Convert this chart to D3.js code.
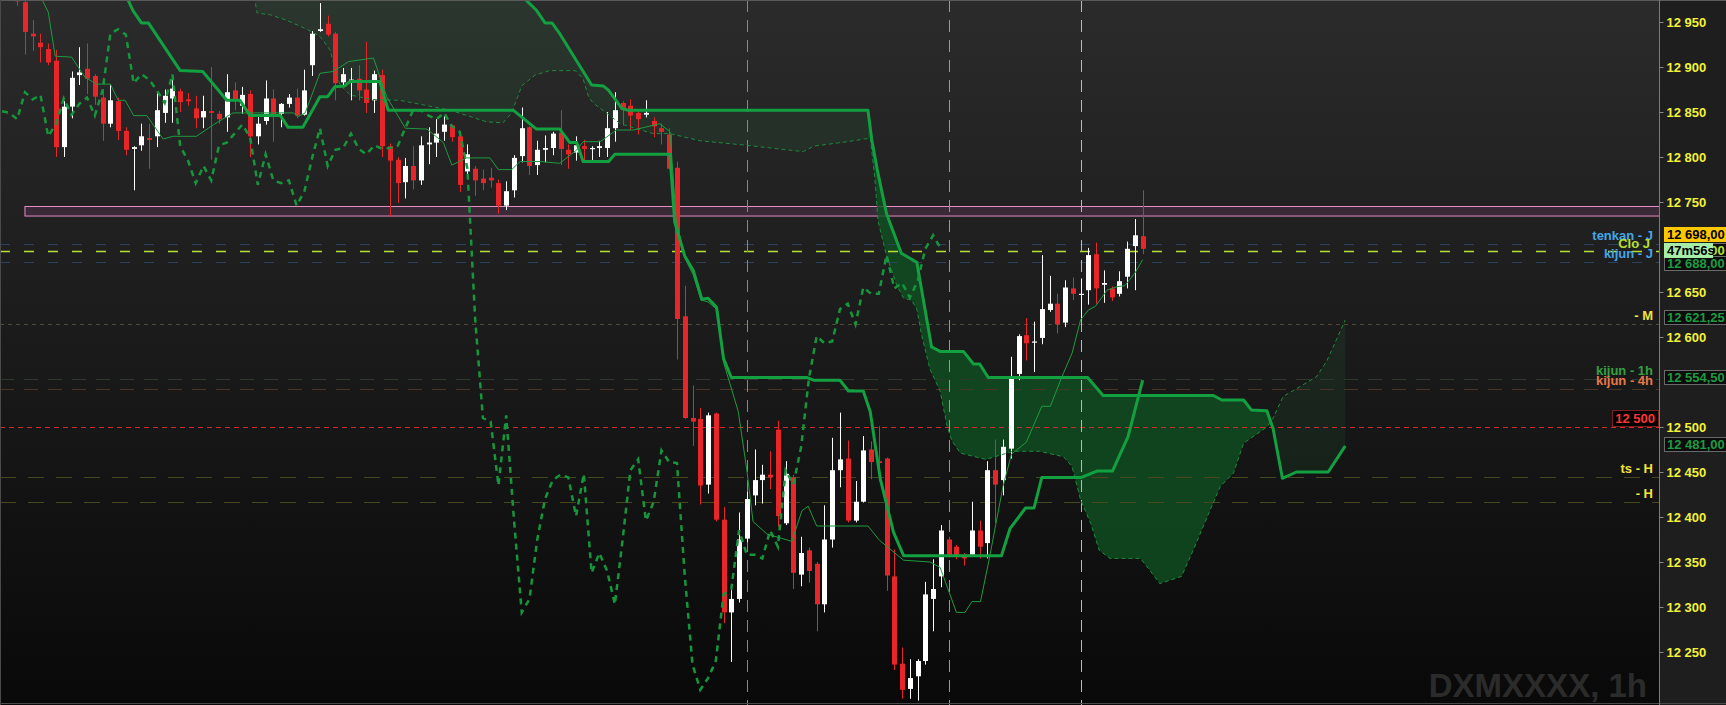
<!DOCTYPE html>
<html><head><meta charset="utf-8">
<script src="https://cdn.jsdelivr.net/npm/d3@7"></script>
<style>html,body{margin:0;padding:0;background:#1e1e1e;overflow:hidden}svg{display:block}</style>
</head><body><svg id="c" width="1726" height="705"></svg>
<script>
// ---------------- DATA ----------------
const open = [12995,12972,12937,12927,12920,12907,12811,12856,12891,12898, 12890,12866,12837,12862,12829,12809,12813,12821,12823,12849, 12865,12873,12864,12854,12844,12851,12848,12844,12874,12857, 12870,12823,12840,12865,12848,12859,12866,12847,12902,12940, 12948,12937,12883,12884,12887,12875,12863,12891,12812,12797, 12772,12790,12774,12814,12816,12828,12835,12823,12784,12787, 12776,12777,12771,12746,12763,12801,12833,12791,12808,12810, 12827,12808,12805,12812,12809,12810,12810,12832,12860,12857, 12849,12847,12840,12832,12825,12788,12623,12510,12509,12436, 12515,12397,12294,12309,12376,12424,12441,12447,12497,12393, 12444,12336,12363,12348,12303,12375,12452,12465,12396,12417, 12475,12462,12465,12334,12237,12209,12223,12240,12309,12334, 12375,12367,12356,12358,12385,12371,12452,12441,12476,12559, 12602,12594,12599,12630,12637,12616,12654,12647,12652,12692, 12658,12654,12648,12667,12701,12712];
const high = [13005,12980,12952,12937,12926,12919,12862,12895,12922,12926, 12892,12875,12881,12866,12833,12812,12837,12837,12871,12875, 12891,12876,12871,12868,12868,12900,12851,12892,12883,12878, 12874,12846,12885,12875,12860,12870,12876,12897,12940,12971, 12957,12939,12899,12899,12902,12928,12896,12897,12815,12800, 12799,12812,12823,12833,12842,12845,12836,12825,12814,12790, 12786,12788,12775,12773,12802,12855,12834,12818,12824,12828, 12852,12814,12823,12819,12812,12818,12850,12872,12862,12864, 12852,12863,12844,12837,12832,12795,12657,12546,12521,12516, 12516,12411,12324,12405,12428,12475,12458,12473,12507,12462, 12447,12378,12366,12350,12413,12488,12516,12485,12440,12490, 12484,12501,12466,12364,12255,12242,12242,12328,12353,12391, 12378,12369,12360,12417,12396,12462,12486,12486,12578,12603, 12621,12617,12691,12668,12648,12663,12666,12665,12699,12705, 12674,12656,12673,12706,12731,12763];
const low = [12968,12914,12918,12905,12902,12800,12800,12843,12880,12870, 12858,12818,12833,12819,12802,12763,12807,12787,12811,12838, 12838,12850,12857,12832,12832,12797,12837,12828,12852,12848, 12800,12814,12836,12817,12833,12855,12843,12846,12890,12939, 12934,12863,12880,12863,12863,12849,12849,12800,12734,12749, 12754,12764,12769,12792,12800,12818,12817,12761,12776,12757, 12763,12766,12737,12741,12755,12794,12780,12780,12794,12802, 12791,12787,12796,12796,12794,12800,12800,12817,12835,12830, 12825,12844,12822,12814,12786,12575,12509,12479,12414,12426, 12395,12282,12239,12305,12372,12413,12415,12431,12389,12391, 12320,12323,12327,12273,12294,12366,12433,12394,12394,12416, 12442,12440,12318,12230,12198,12198,12196,12236,12273,12322, 12355,12353,12346,12356,12354,12354,12393,12424,12465,12552, 12574,12561,12592,12628,12604,12611,12641,12619,12636,12637, 12638,12640,12645,12654,12652,12692];
const close = [12973,12939,12934,12922,12905,12811,12856,12888,12894,12887, 12867,12837,12863,12829,12808,12811,12823,12819,12852,12868, 12876,12861,12862,12843,12851,12849,12842,12872,12864,12869, 12823,12837,12865,12847,12859,12866,12846,12874,12937,12942, 12936,12882,12892,12886,12874,12860,12892,12812,12796,12771, 12790,12774,12813,12816,12826,12836,12822,12769,12803,12774, 12771,12774,12746,12762,12799,12832,12790,12808,12810,12826, 12809,12803,12813,12809,12810,12812,12832,12852,12852,12846, 12842,12849,12834,12828,12787,12620,12510,12506,12435,12513, 12397,12294,12309,12375,12420,12441,12447,12444,12401,12448, 12338,12360,12340,12303,12375,12452,12464,12396,12417,12474, 12461,12460,12335,12236,12208,12221,12240,12314,12320,12385, 12358,12358,12354,12385,12367,12452,12436,12478,12554,12601, 12593,12595,12631,12637,12614,12655,12648,12648,12691,12654, 12660,12644,12662,12698,12713,12698];

// Ichimoku lines: [bar index, price]
const tenkan = [[2.9,12980],[4.0,12961],[4.9,12912],[7.0,12911],[8.7,12889],[10.2,12881],[12.0,12881],[13.0,12863],[13.9,12863],[15.0,12846],[16.7,12846],[18.8,12820],[20.1,12823],[23.1,12823],[25.3,12836],[27.8,12849],[35.6,12849],[36.2,12845],[37.1,12849],[39.0,12893],[40.7,12895],[42.7,12906],[45.9,12910],[47.6,12867],[50.0,12832],[52.8,12831],[54.9,12816],[56.0,12791],[57.9,12799],[60.9,12799],[62.0,12786],[63.7,12786],[64.8,12795],[67.4,12795],[69.9,12793],[72.1,12808],[72.9,12817],[75.1,12817],[77.2,12830],[79.4,12830],[82.8,12837],[84.1,12828],[84.9,12730],[86.0,12688],[87.1,12669],[88.1,12641],[89.0,12639],[90.1,12631],[91.0,12572],[92.9,12517],[94.0,12452],[94.8,12395],[96.6,12381],[99.8,12373],[101.1,12407],[101.9,12412],[103.0,12390],[109.6,12390],[111.1,12374],[114.2,12352],[117.6,12350],[118.9,12344],[121.0,12294],[122.1,12294],[123.0,12306],[124.1,12306],[125.2,12352],[127.0,12434],[128.1,12470],[130.0,12483],[132.0,12523],[133.1,12523],[134.6,12556],[135.9,12582],[137.0,12619],[138.0,12630],[138.9,12634],[140.4,12652],[141.7,12656],[142.7,12657],[144.0,12671],[145.0,12686]];
const kijun = [[13.5,12995],[14.3,12974],[14.9,12963],[16.0,12949],[16.9,12949],[21.0,12896],[23.9,12895],[27.0,12863],[28.7,12863],[30.0,12846],[33.9,12846],[34.9,12833],[36.8,12833],[39.0,12867],[40.0,12867],[40.9,12878],[42.2,12879],[42.9,12884],[46.7,12884],[47.8,12852],[63.9,12852],[66.9,12831],[69.9,12831],[71.2,12816],[72.1,12816],[72.9,12795],[76.2,12795],[77.0,12803],[84.1,12803],[84.7,12728],[86.0,12690],[87.1,12674],[88.2,12642],[89.0,12643],[90.1,12633],[91.0,12576],[92.0,12555],[101.7,12555],[102.6,12552],[106.0,12552],[107.1,12540],[109.0,12540],[109.9,12517],[111.2,12442],[112.9,12383],[114.2,12357],[126.8,12357],[127.9,12387],[129.9,12410],[131.0,12410],[132.0,12444],[137.1,12444],[139.1,12451],[141.1,12451],[143.1,12489],[145.0,12552]];
const senkouA = [[30.4,12986],[30.9,12960],[32.6,12958],[34.7,12952],[37.3,12942],[39.0,12934],[40.3,12919],[40.9,12900],[41.6,12880],[42.9,12869],[45.5,12864],[49.3,12863],[55.8,12852],[60.5,12839],[62.6,12838],[63.7,12849],[65.0,12879],[66.7,12891],[68.6,12896],[71.9,12896],[72.9,12887],[73.6,12867],[74.2,12860],[75.9,12849],[77.7,12837],[81.9,12826],[84.1,12826],[88.0,12818],[94.0,12813],[99.1,12808],[101.3,12806],[102.6,12812],[106.9,12817],[109.9,12821],[110.5,12776],[110.9,12729],[112.0,12690],[113.3,12658],[114.2,12643],[115.2,12641],[115.9,12631],[116.5,12603],[117.6,12564],[118.9,12540],[119.8,12501],[120.4,12485],[121.5,12471],[124.8,12464],[128.3,12473],[131.7,12473],[134.8,12467],[135.9,12456],[137.0,12419],[138.3,12393],[139.4,12363],[140.8,12354],[144.7,12354],[145.9,12341],[147.2,12326],[150.0,12334],[151.5,12363],[153.7,12408],[155.0,12434],[156.7,12449],[158.0,12482],[161.0,12500],[161.8,12510],[163.1,12534],[165.3,12545],[167.4,12556],[168.7,12573],[171.1,12619]];
const senkouB = [[30.4,13080],[45,13070],[55,13050],[62,13010],[64.5,12990],[65.6,12974],[66.9,12963],[68.0,12949],[68.9,12949],[69.9,12937],[74.0,12880],[75.5,12879],[76.2,12874],[77.9,12854],[78.7,12852],[109.6,12852],[110.1,12819],[110.8,12786],[112.0,12737],[113.9,12693],[115.9,12683],[117.8,12589],[118.9,12584],[121.9,12584],[123.2,12570],[124.0,12570],[125.1,12555],[137.9,12555],[139.9,12535],[154.1,12535],[155.2,12530],[158.0,12530],[159.0,12519],[161.0,12518],[161.8,12498],[163.0,12443],[164.8,12450],[168.9,12450],[171.1,12479]];

const tickValues = [12950,12900,12850,12800,12750,12650,12600,12500,12450,12400,12350,12300,12250];
const levelNames  = ["tenkan - J","Clo J","kijun - J","- M","kijun - 1h","kijun - 4h","12 500","ts - H","- H"];
const levelValues = [12703.3,12696,12683.7,12614.4,12553,12542,12500,12444.4,12416.3];
const zoneValues = [12734.4,12745];
const zoneStart = 1;
const dayStarts = [94,120,137];
const tagValues = [12696,12688,12621.25,12554.5,12481];
const countdown = "47m56s";
const watermark = "DXMXXXX, 1h";

// ---------------- DRAW ----------------
const W=1726,H=705,plotR=1659;
const FONT='"Liberation Sans", Arial, sans-serif';
const svg=d3.select('#c');
const defs=svg.append('defs');
const g0=defs.append('linearGradient').attr('id','bg').attr('x1',0).attr('y1',0).attr('x2',0).attr('y2',1);
g0.append('stop').attr('offset','0%').attr('stop-color','#2b2b2b');
g0.append('stop').attr('offset','100%').attr('stop-color','#090909');

const x=d3.scaleLinear().domain([0,145]).range([17.2,1142.7]);
const y=d3.scaleLinear().domain([12250,12950]).range([652,22]);

defs.append('clipPath').attr('id','plot').append('rect').attr('width',plotR).attr('height',H);
const xs=x(109.6), xe=x(161.4);
const cf=defs.append('clipPath').attr('id','faint');
cf.append('rect').attr('x',0).attr('y',0).attr('width',xs).attr('height',H);
cf.append('rect').attr('x',xe).attr('y',0).attr('width',plotR-xe).attr('height',H);
defs.append('clipPath').attr('id','strong').append('rect').attr('x',xs).attr('y',0).attr('width',xe-xs).attr('height',H);

svg.append('rect').attr('width',W).attr('height',H).attr('fill','#1e1e1e');
svg.append('rect').attr('width',plotR).attr('height',H).attr('fill','url(#bg)');

svg.append('text').attr('x',1647).attr('y',697).attr('text-anchor','end')
  .attr('font-family',FONT).attr('font-weight','bold').attr('font-size',33)
  .attr('fill','#2b2b2b').text(watermark);

const P=svg.append('g').attr('clip-path','url(#plot)');

// zone
P.append('rect').attr('x',x(zoneStart)).attr('y',y(zoneValues[1])).attr('width',plotR-x(zoneStart)+5)
 .attr('height',y(zoneValues[0])-y(zoneValues[1])).attr('fill','#3a2937').attr('stroke','#e48cc4').attr('stroke-width',1);

// cloud
const pt=d=>[x(d[0]),y(d[1])];
const poly=senkouA.map(pt).concat(senkouB.slice().reverse().map(pt));
const polyStr='M'+poly.map(p=>p.join(',')).join('L')+'Z';
P.append('path').attr('d',polyStr).attr('fill','rgba(40,150,70,0.11)').attr('clip-path','url(#faint)');
P.append('path').attr('d',polyStr).attr('fill','rgba(14,82,34,0.78)').attr('clip-path','url(#strong)');

// horizontal levels
const lvlStyle={
 "tenkan - J":{c:'#2c4260',d:'10,14',w:1,t:'#45a6e6'},
 "Clo J":{c:'#b8e030',d:'10,14',w:1.5,t:'#b8e030'},
 "kijun - J":{c:'#2c4260',d:'10,14',w:1,t:'#45a6e6'},
 "- M":{c:'#4e4a34',d:'4,4',w:1,t:'#f0e43c'},
 "kijun - 1h":{c:'#2c3a2e',d:'14,10',w:1,t:'#36a040'},
 "kijun - 4h":{c:'#4a3428',d:'14,10',w:1,t:'#e8784a'},
 "12 500":{c:'#d02a2a',d:'5,4',w:1,t:'#ff3434'},
 "ts - H":{c:'#48481e',d:'16,12',w:1,t:'#f0e43c'},
 "- H":{c:'#48481e',d:'16,12',w:1,t:'#f0e43c'}
};
levelNames.forEach((n,k)=>{
  const s=lvlStyle[n], yy=Math.round(y(levelValues[k]))+0.5;
  P.append('line').attr('x1',0).attr('x2',plotR).attr('y1',yy).attr('y2',yy)
   .attr('stroke',s.c).attr('stroke-width',s.w).attr('stroke-dasharray',s.d);
});

// day separators
const dayCol=['#5b8fd8','#d070d8','#e8b848'];
dayStarts.forEach((d,k)=>{
  const xx=Math.round(x(d))+0.5;
  P.append('line').attr('x1',xx).attr('x2',xx).attr('y1',0).attr('y2',H)
   .attr('stroke',dayCol[k]).attr('stroke-width',1).attr('stroke-dasharray','12,8');
});

// candles
const idx=d3.range(open.length);
const cg=P.append('g');
idx.forEach(i=>{
  const up=close[i]>=open[i];
  const col=up?'#ffffff':'#e8262a';
  const xx=Math.round(x(i));
  cg.append('line').attr('x1',xx+0.5).attr('x2',xx+0.5).attr('y1',y(high[i])).attr('y2',y(low[i]))
    .attr('stroke',col).attr('stroke-width',1);
  const top=y(Math.max(open[i],close[i])), bot=y(Math.min(open[i],close[i]));
  cg.append('rect').attr('x',xx-2).attr('y',top).attr('width',5).attr('height',Math.max(1.2,bot-top))
    .attr('fill',col);
});

// lines
const line=d3.line().x(d=>x(d[0])).y(d=>y(d[1]));
P.append('path').attr('d',line(senkouA)).attr('fill','none').attr('stroke','#1f8a3c').attr('stroke-width',1).attr('stroke-dasharray','4,3');
P.append('path').attr('d',line(senkouB)).attr('fill','none').attr('stroke','#12a040').attr('stroke-width',3).attr('stroke-linejoin','round');
const chikou=close.map((c,i)=>[i-26,c]).filter(d=>d[0]>=-3);
P.append('path').attr('d',line(chikou)).attr('fill','none').attr('stroke','#16963c').attr('stroke-width',2.5).attr('stroke-dasharray','6,5');
P.append('path').attr('d',line(tenkan)).attr('fill','none').attr('stroke','#1f9a40').attr('stroke-width',1);
P.append('path').attr('d',line(kijun)).attr('fill','none').attr('stroke','#12a040').attr('stroke-width',3).attr('stroke-linejoin','round');

// level labels inside plot
levelNames.forEach((n,k)=>{
  const s=lvlStyle[n], yy=y(levelValues[k]);
  if(n==="12 500"){
    P.append('rect').attr('x',1612.5).attr('y',410.5).attr('width',46).attr('height',16)
      .attr('fill','#000').attr('stroke','#7a1e1e');
    P.append('text').attr('x',1655).attr('y',423).attr('text-anchor','end')
      .attr('font-family',FONT).attr('font-weight','bold').attr('font-size',13).attr('fill',s.t).text(n);
    return;
  }
  const ax = n==="Clo J"?1650:1653;
  P.append('text').attr('x',ax).attr('y',yy-(n==="Clo J"?2.5:4)).attr('text-anchor','end')
    .attr('font-family',FONT).attr('font-weight','bold').attr('font-size',13).attr('fill',s.t).text(n);
});

// borders
svg.append('line').attr('x1',0).attr('x2',W).attr('y1',0.5).attr('y2',0.5).attr('stroke','#5a5a5a');
svg.append('line').attr('x1',0.5).attr('x2',0.5).attr('y1',0).attr('y2',H).attr('stroke','#4a4a4a');
svg.append('line').attr('x1',0).attr('x2',W).attr('y1',H-1.5).attr('y2',H-1.5).attr('stroke','#4a4a4a');
svg.append('line').attr('x1',plotR+0.5).attr('x2',plotR+0.5).attr('y1',0).attr('y2',H).attr('stroke','#7a7a7a');

// axis
const loc=d3.formatLocale({decimal:",",thousands:"\u00a0",grouping:[3],currency:["",""]});
const fmt0=loc.format(",d"), fmt2=loc.format(",.2f");
const ax=svg.append('g').attr('transform',`translate(${plotR+0.5},0)`)
  .call(d3.axisRight(y).tickValues(tickValues).tickSize(4).tickSizeOuter(0).tickPadding(3).tickFormat(fmt0));
ax.select('.domain').remove();
ax.selectAll('.tick line').attr('stroke','#8a8a8a');
ax.selectAll('.tick text').attr('fill','#f2f23a').attr('font-family',FONT).attr('font-weight','bold').attr('font-size',13);

// tags on axis
function tag(cy,text,bg,fg,stroke,w){
  const g=svg.append('g');
  g.append('rect').attr('x',plotR+5.5).attr('y',Math.round(cy-7.5)+0.5).attr('width',w||80).attr('height',14)
    .attr('fill',bg).attr('stroke',stroke||'none');
  g.append('text').attr('x',plotR+8).attr('y',Math.round(cy-7.5)+12).attr('font-family',FONT)
    .attr('font-weight','bold').attr('font-size',13).attr('fill',fg).text(text);
}
const last=close[close.length-1];
tag(y(tagValues[0]),fmt2(tagValues[0]),'#0c0c0c','#b8e030','#6a6a6a');
tag(y(last)-14.5,fmt2(last),'#ffc800','#000','#ffc800');
tag(y(tagValues[1])+6,fmt2(tagValues[1]),'#0c0c0c','#1e9a40','#6a6a6a');
for(let k=2;k<tagValues.length;k++) tag(y(tagValues[k]),fmt2(tagValues[k]),'#0c0c0c','#1e9a40','#6a6a6a');
tag(y(last)+2,countdown,'#a6eea6','#000','#a6eea6',48);
</script></body></html>
